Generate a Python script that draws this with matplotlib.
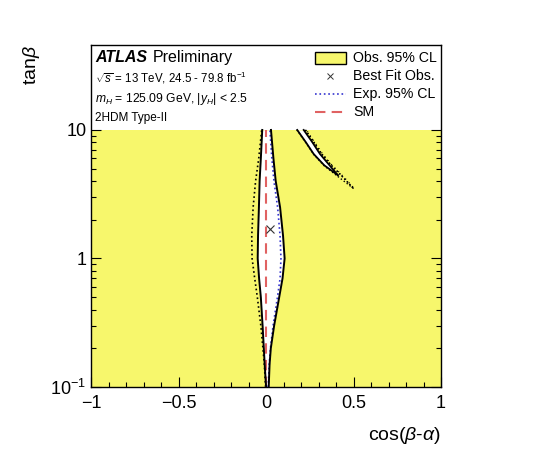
import matplotlib
matplotlib.use('Agg')
import matplotlib.pyplot as plt
from matplotlib import patheffects
from matplotlib.patches import Rectangle
from matplotlib.lines import Line2D
from matplotlib.ticker import FixedLocator, NullFormatter

plt.rcParams['font.family'] = ['Liberation Sans', 'DejaVu Sans']
plt.rcParams['mathtext.fontset'] = 'custom'
plt.rcParams['mathtext.rm'] = 'Liberation Sans'
plt.rcParams['mathtext.it'] = 'Liberation Sans:italic'
plt.rcParams['mathtext.bf'] = 'Liberation Sans:bold'

# central allowed band (cos(b-a) edges vs tan b)
tanb_c = [0.1, 0.15, 0.2, 0.3, 0.5, 0.7, 1.0, 1.5, 2.5, 4.0, 6.0, 10.0]
obs_lo_c = [0.0, -0.008, -0.013, -0.02, -0.03, -0.04, -0.048, -0.046, -0.041, -0.037, -0.03, -0.022]
obs_hi_c = [0.015, 0.02, 0.027, 0.046, 0.075, 0.094, 0.106, 0.097, 0.08, 0.055, 0.042, 0.028]
exp_lo_c = [-0.003, -0.01, -0.018, -0.03, -0.05, -0.065, -0.08, -0.082, -0.074, -0.06, -0.042, -0.025]
exp_hi_c = [0.012, 0.018, 0.025, 0.04, 0.065, 0.08, 0.085, 0.08, 0.066, 0.045, 0.033, 0.022]

# wrong-sign wedge
tanb_w = [10.0, 8.0, 6.5, 5.3, 4.45]
obs_lo_w = [0.178, 0.228, 0.272, 0.333, 0.41]
obs_hi_w = [0.215, 0.265, 0.308, 0.363, 0.41]
tanb_we_up = [10.0, 8.0, 6.5, 5.3, 4.5, 3.5]
exp_up_w = [0.225, 0.274, 0.318, 0.373, 0.425, 0.50]
tanb_we_lo = [3.5, 4.4, 5.3, 6.5, 8.0, 10.0]
exp_lo_w = [0.50, 0.405, 0.33, 0.27, 0.226, 0.176]

best_fit = (0.02, 1.71)
sm_x = 0.0

xmin, xmax = -1.0, 1.0
ymin, ycut, ymax = 0.1, 10.0, 45.9

yellow = '#f7f76c'
blue = '#3434d0'
red = '#e06262'

fig = plt.figure(figsize=(5.59, 4.58), dpi=100)
ax = fig.add_axes([0.163, 0.155, 0.626, 0.747])
ax.set_yscale('log')
ax.set_xlim(xmin, xmax)
ax.set_ylim(ymin, ymax)

# excluded region (everything below the cut) then allowed regions in white
ax.fill_between([xmin, xmax], ymin, ycut, color=yellow, lw=0, zorder=1)
ax.fill_betweenx(tanb_c, obs_lo_c, obs_hi_c, color='white', lw=0, zorder=2)
ax.fill_betweenx(tanb_w, obs_lo_w, obs_hi_w, color='white', lw=0, zorder=2)

ax.plot(obs_lo_c, tanb_c, color='black', lw=1.4, zorder=4)
ax.plot(obs_hi_c, tanb_c, color='black', lw=1.4, zorder=4)
ax.plot(obs_lo_w, tanb_w, color='black', lw=1.3, zorder=4)
ax.plot(obs_hi_w, tanb_w, color='black', lw=1.3, zorder=4)

ax.plot(exp_lo_c, tanb_c, color='black', lw=1.2, ls=':', zorder=3)
ax.plot(exp_hi_c, tanb_c, color=blue, lw=1.2, ls=':', zorder=3)
ax.plot(exp_up_w, tanb_we_up, color='black', lw=1.0, ls=':', zorder=3,
        path_effects=[patheffects.Stroke(),
                      patheffects.withTickedStroke(angle=70, spacing=3.5, length=0.35, linewidth=0.7)])
ax.plot(exp_lo_w, tanb_we_lo, color='black', lw=1.0, ls=':', zorder=3)

ax.plot([sm_x, sm_x], [ymin, ycut], color=red, lw=1.5, ls=(0, (5, 3)), zorder=3)
ax.plot([best_fit[0]], [best_fit[1]], marker='x', color='#333333', ms=6, mew=0.8, ls='none', zorder=5)

# ticks
ax.yaxis.set_major_locator(FixedLocator([0.1, 1, 10]))
ax.yaxis.set_minor_locator(FixedLocator([0.2, 0.3, 0.4, 0.5, 0.6, 0.7, 0.8, 0.9,
                                         2, 3, 4, 5, 6, 7, 8, 9]))
ax.yaxis.set_minor_formatter(NullFormatter())
ax.set_yticklabels(['$10^{-1}$', '1', '10'])
ax.set_xticks([-1, -0.5, 0, 0.5, 1])
ax.set_xticklabels(['\u22121', '\u22120.5', '0', '0.5', '1'])
ax.xaxis.set_minor_locator(FixedLocator([v / 10 for v in range(-10, 11)]))
ax.tick_params(which='both', direction='in', left=True, right=True, bottom=True, top=False,
               labelsize=13, width=0.8)
ax.tick_params(which='major', length=7)
ax.tick_params(which='minor', length=3.6)
ax.tick_params(axis='x', pad=6)
for s in ax.spines.values():
    s.set_linewidth(1.0)

ax.set_ylabel(r'tan$\beta$', fontsize=14, loc='top')
ax.yaxis.set_label_coords(-0.14, 1.0)
ax.set_xlabel(r'cos($\beta$-$\alpha$)', fontsize=14, loc='right')
ax.xaxis.set_label_coords(1.0, -0.11)

# header text
T = ax.transAxes
ax.text(0.011, 0.950, 'ATLAS', transform=T, fontsize=11.5, fontweight='bold', fontstyle='italic')
ax.text(0.176, 0.950, 'Preliminary', transform=T, fontsize=11.5)
ax.text(0.011, 0.889, r'$\sqrt{s}$ = 13 TeV, 24.5 - 79.8 fb$^{-1}$', transform=T, fontsize=8.3)
ax.text(0.011, 0.833, r'$m_H$ = 125.09 GeV, |$y_H$| < 2.5', transform=T, fontsize=8.7)
ax.text(0.011, 0.778, '2HDM Type-II', transform=T, fontsize=8.5)

# legend
rows = [0.962, 0.909, 0.857, 0.804]
ax.add_patch(Rectangle((0.64, 0.944), 0.088, 0.036, transform=T, facecolor=yellow,
                       edgecolor='black', lw=1.0, zorder=6))
ax.add_line(Line2D([0.683], [rows[1]], transform=T, marker='x', color='#333333', ms=5, mew=0.7, ls='none'))
ax.add_line(Line2D([0.64, 0.728], [rows[2], rows[2]], transform=T, color=blue, lw=1.2, ls=':'))
ax.add_line(Line2D([0.64, 0.728], [rows[3], rows[3]], transform=T, color=red, lw=1.5, ls=(0, (5, 3))))
labels = ['Obs. 95% CL', 'Best Fit Obs.', 'Exp. 95% CL', 'SM']
for r, lab in zip(rows, labels):
    ax.text(0.748, r, lab, transform=T, fontsize=10.2, va='center')

plt.savefig('out.png', dpi=100)
